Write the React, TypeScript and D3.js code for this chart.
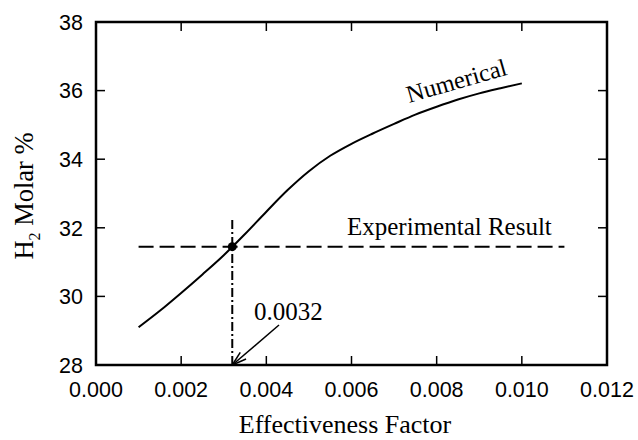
import React from 'react';
import * as d3 from 'd3';

// numerical curve: effectiveness factor vs H2 molar %
const EFF = [0.001, 0.0015, 0.002, 0.0025, 0.003, 0.0035, 0.004, 0.0045, 0.005, 0.0055, 0.006, 0.0065, 0.007, 0.0075, 0.008, 0.0085, 0.009, 0.0095, 0.010];
const H2 = [29.1, 29.58, 30.1, 30.64, 31.2, 31.82, 32.47, 33.1, 33.65, 34.1, 34.45, 34.75, 35.03, 35.3, 35.53, 35.74, 35.92, 36.07, 36.21];

const EXPERIMENTAL = 31.45;
const EXP_RANGE = [0.001, 0.011];
const CROSS_X = 0.0032;
const CROSS_TOP = 32.25;

const XTICKS = [0, 0.002, 0.004, 0.006, 0.008, 0.01, 0.012];
const YTICKS = [28, 30, 32, 34, 36, 38];

const W = 638;
const H = 440;
const margin = { left: 96, right: 31, top: 22, bottom: 75 };

const serif = '"Liberation Serif", "Times New Roman", serif';
const sans = '"Liberation Sans", Arial, sans-serif';

export default function App() {
  const x = d3.scaleLinear().domain([0, 0.012]).range([margin.left, W - margin.right]);
  const y = d3.scaleLinear().domain([28, 38]).range([H - margin.bottom, margin.top]);

  const line = d3.line<number>()
    .x((d, i) => x(EFF[i]))
    .y(d => y(d))
    .curve(d3.curveMonotoneX);

  const x0 = x.range()[0], x1 = x.range()[1];
  const y0 = y.range()[0], y1 = y.range()[1];
  const tick = 9;

  // arrow from label down to the axis
  const ax = x(CROSS_X), ay = y(28);
  const sx = 279, sy = 325;
  const ang = Math.atan2(sy - ay, sx - ax);
  const headLen = 15, spread = 0.3;
  const head = [ang - spread, ang + spread].map(a => [ax + headLen * Math.cos(a), ay + headLen * Math.sin(a)]);

  return (
    <svg width={W} height={H} style={{ position: 'absolute', left: 0, top: 0, background: '#fff' }}>
      {/* ticks on all four sides, pointing in */}
      {XTICKS.slice(1, -1).map(t => (
        <g key={'xt' + t} stroke="#000" strokeWidth={1.5}>
          <line x1={x(t)} x2={x(t)} y1={y0} y2={y0 - tick} />
          <line x1={x(t)} x2={x(t)} y1={y1} y2={y1 + tick} />
        </g>
      ))}
      {YTICKS.slice(1, -1).map(t => (
        <g key={'yt' + t} stroke="#000" strokeWidth={1.5}>
          <line x1={x0} x2={x0 + tick} y1={y(t)} y2={y(t)} />
          <line x1={x1} x2={x1 - tick} y1={y(t)} y2={y(t)} />
        </g>
      ))}
      <rect x={x0} y={y1} width={x1 - x0} height={y0 - y1} fill="none" stroke="#000" strokeWidth={2.5} />

      {XTICKS.map(t => (
        <text key={'xl' + t} x={x(t)} y={397} textAnchor="middle" fontFamily={sans} fontSize={21.5}>
          {d3.format('.3f')(t)}
        </text>
      ))}
      {YTICKS.map(t => (
        <text key={'yl' + t} x={83} y={y(t)} dy="0.36em" textAnchor="end" fontFamily={sans} fontSize={21.5}>
          {t}
        </text>
      ))}

      <text x={345} y={433} textAnchor="middle" fontFamily={serif} fontSize={26}>Effectiveness Factor</text>
      <text transform="translate(33,196) rotate(-90)" textAnchor="middle" fontFamily={serif} fontSize={26.5}>
        H<tspan fontSize={16} dy={7}>2</tspan><tspan dy={-7}> Molar %</tspan>
      </text>

      {/* experimental level */}
      <line x1={x(EXP_RANGE[0])} x2={x(EXP_RANGE[1])} y1={y(EXPERIMENTAL)} y2={y(EXPERIMENTAL)}
        stroke="#000" strokeWidth={2} strokeDasharray="15,6" />
      {/* crossing marker */}
      <line x1={x(CROSS_X)} x2={x(CROSS_X)} y1={y(28)} y2={y(CROSS_TOP)}
        stroke="#000" strokeWidth={2} strokeDasharray="9,3,2,3" />

      <path d={line(H2) || ''} fill="none" stroke="#000" strokeWidth={2} />
      <circle cx={x(CROSS_X)} cy={y(EXPERIMENTAL)} r={4.5} fill="#000" />

      <line x1={sx} y1={sy} x2={ax} y2={ay} stroke="#000" strokeWidth={1.5} />
      {head.map((p, i) => (
        <line key={'ah' + i} x1={ax} y1={ay} x2={p[0]} y2={p[1]} stroke="#000" strokeWidth={1.5} />
      ))}

      <text x={347} y={235} fontFamily={serif} fontSize={25}>Experimental Result</text>
      <text x={254} y={320} fontFamily={serif} fontSize={25}>0.0032</text>
      <text transform="translate(409,103) rotate(-16)" fontFamily={serif} fontSize={24.5}>Numerical</text>
    </svg>
  );
}
